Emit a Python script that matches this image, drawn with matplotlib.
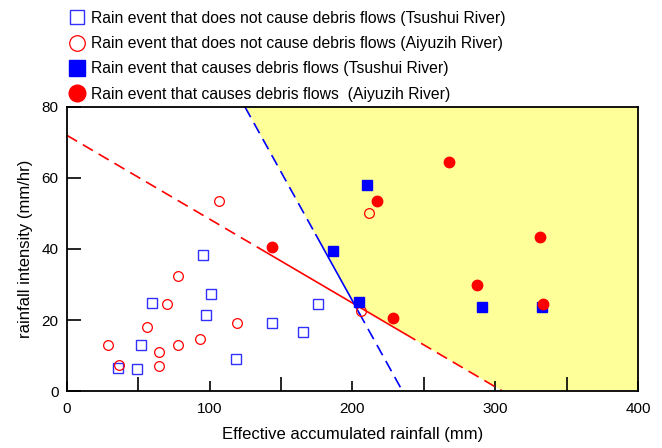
import numpy as np
import matplotlib
matplotlib.use("Agg")
import matplotlib.pyplot as plt
from matplotlib.ticker import MultipleLocator

plt.rcParams['font.family'] = ['Liberation Sans', 'DejaVu Sans']

# open squares: Tsushui River, no debris flow
ts_no_x = [35.9, 49.3, 51.8, 59.3, 95.5, 100.6, 97.4, 118.4, 143.6, 165.1, 176.1]
ts_no_y = [6.4, 6.1, 13.0, 24.9, 38.4, 27.3, 21.5, 9.0, 19.1, 16.5, 24.5]

# open circles: Aiyuzih River, no debris flow
ay_no_x = [28.5, 36.4, 55.8, 64.7, 64.2, 69.8, 78.0, 78.0, 92.9, 106.3, 119.3, 211.3, 206.0]
ay_no_y = [13.0, 7.3, 18.1, 11.0, 7.0, 24.5, 32.4, 13.0, 14.6, 53.6, 19.1, 50.0, 22.6]

# filled squares: Tsushui River, debris flow
ts_df_x = [210.4, 186.1, 204.6, 290.5, 333.0]
ts_df_y = [58.0, 39.4, 25.0, 23.7, 23.7]

# filled circles: Aiyuzih River, debris flow
ay_df_x = [143.6, 267.8, 216.9, 331.1, 287.2, 228.4, 333.7]
ay_df_y = [40.5, 64.6, 53.5, 43.5, 29.9, 20.6, 24.5]

# critical lines (x, y end points)
blue_line = ([124.7, 235.0], [80.0, 0.0])
red_line = ([0.0, 305.0], [72.0, 0.0])
blue_solid_y = (44.0, 22.0)
red_solid_x = (135.0, 237.0)

labels = ["Rain event that does not cause debris flows (Tsushui River)",
          "Rain event that does not cause debris flows (Aiyuzih River)",
          "Rain event that causes debris flows (Tsushui River)",
          "Rain event that causes debris flows  (Aiyuzih River)"]

fig = plt.figure(figsize=(6.62, 4.48), dpi=100)
ax = fig.add_axes([0.1012, 0.1272, 0.8625, 0.634])


def red_y(x):
    return np.interp(x, red_line[0], red_line[1])


def blue_x(y):
    return np.interp(y, blue_line[1][::-1], blue_line[0][::-1])


# intersection of the two lines
bx0, bx1 = blue_line[0]
by0, by1 = blue_line[1]
rs = (red_line[1][1] - red_line[1][0]) / (red_line[0][1] - red_line[0][0])
bs = (by1 - by0) / (bx1 - bx0)
xi = (red_line[1][0] - by0 + bs * bx0) / (bs - rs)
yi = red_line[1][0] + rs * xi

poly_x = [bx0, xi, red_line[0][1], 400, 400]
poly_y = [by0, yi, 0, 0, 80]
ax.fill(poly_x, poly_y, color='#ffff99', zorder=0, lw=0)

# red line: dashed / solid / dashed
x_a = np.array([0, red_solid_x[0]])
x_b = np.array(red_solid_x)
x_c = np.array([red_solid_x[1], red_line[0][1]])
ax.plot(x_a, red_y(x_a), color='red', lw=1.2, ls=(0, (7, 4)))
ax.plot(x_b, red_y(x_b), color='red', lw=1.2)
ax.plot(x_c, red_y(x_c), color='red', lw=1.2, ls=(0, (7, 4)))

# blue line: dashed / solid / dashed
y_a = np.array([80, blue_solid_y[0]])
y_b = np.array(blue_solid_y)
y_c = np.array([blue_solid_y[1], 0])
ax.plot(blue_x(y_a), y_a, color='blue', lw=1.2, ls=(0, (7, 4)))
ax.plot(blue_x(y_b), y_b, color='blue', lw=1.2)
ax.plot(blue_x(y_c), y_c, color='blue', lw=1.2, ls=(0, (7, 4)))

h1, = ax.plot(ts_no_x, ts_no_y, 's', ms=6.5, mfc='none', mec='#3030ff', mew=1.0, ls='none')
h2, = ax.plot(ay_no_x, ay_no_y, 'o', ms=7, mfc='none', mec='red', mew=0.9, ls='none')
h3, = ax.plot(ts_df_x, ts_df_y, 's', ms=7, color='blue', ls='none')
h4, = ax.plot(ay_df_x, ay_df_y, 'o', ms=7.5, color='red', ls='none')

leg = fig.legend([h1, h2, h3, h4], labels, loc='upper left',
                 bbox_to_anchor=(0.095, 0.99), frameon=False, fontsize=11.3,
                 handlelength=1.0, handletextpad=0.4, labelspacing=0.66,
                 borderaxespad=0.0, markerscale=1.6)

ax.set_xlim(0, 400)
ax.set_ylim(0, 80)
ax.xaxis.set_major_locator(MultipleLocator(100))
ax.xaxis.set_minor_locator(MultipleLocator(50))
ax.yaxis.set_major_locator(MultipleLocator(20))
ax.tick_params(axis='x', which='major', direction='in', length=7, width=1.2, labelsize=11, pad=8)
ax.tick_params(axis='x', which='minor', direction='in', length=10, width=1.2)
ax.tick_params(axis='y', which='major', direction='in', length=10, width=1.2, labelsize=11, pad=6)
for s in ax.spines.values():
    s.set_linewidth(1.3)

ax.set_xlabel('Effective accumulated rainfall (mm)', fontsize=12, labelpad=8)
ax.set_ylabel('rainfall intensity (mm/hr)', fontsize=12, labelpad=6)

fig.savefig('out.png', dpi=100)
